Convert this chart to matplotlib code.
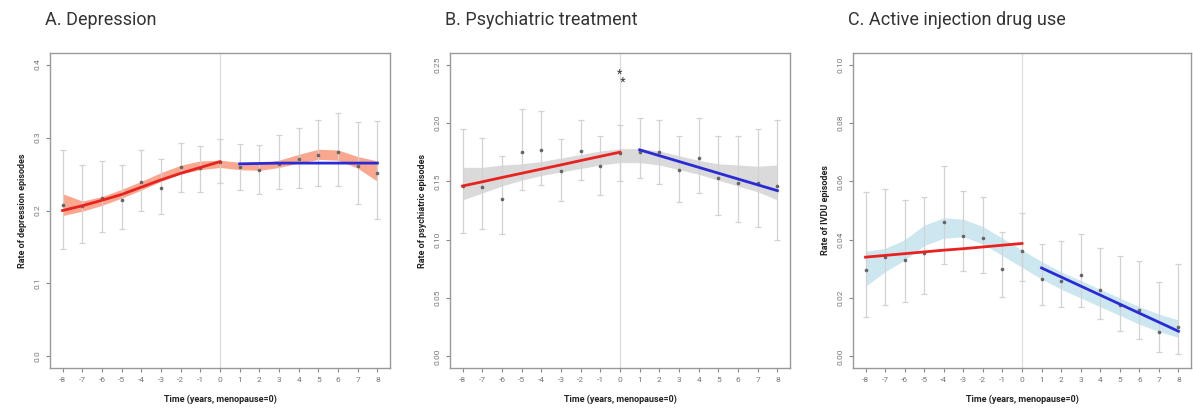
import matplotlib
matplotlib.use("Agg")
import matplotlib.pyplot as plt
import numpy as np

years = list(range(-8, 9))

# Panel A: Depression
a_rate = [0.207, 0.206, 0.217, 0.215, 0.239, 0.231, 0.260, 0.258, 0.267,
          0.260, 0.256, 0.264, 0.270, 0.276, 0.280, 0.261, 0.251]
a_hi = [0.283, 0.263, 0.268, 0.262, 0.283, 0.270, 0.293, 0.288, 0.298,
        0.291, 0.290, 0.304, 0.313, 0.324, 0.334, 0.321, 0.323]
a_lo = [0.147, 0.156, 0.171, 0.175, 0.200, 0.195, 0.225, 0.225, 0.238,
        0.228, 0.222, 0.230, 0.231, 0.234, 0.234, 0.209, 0.189]
a_smooth = [0.208, 0.206, 0.213, 0.223, 0.234, 0.246, 0.256, 0.262, 0.264,
            0.261, 0.260, 0.264, 0.271, 0.277, 0.276, 0.266, 0.254]
a_band = [0.015, 0.007, 0.006, 0.006, 0.006, 0.006, 0.006, 0.006, 0.005,
          0.005, 0.005, 0.005, 0.006, 0.007, 0.007, 0.008, 0.014]
a_pre = [0.200, 0.2065, 0.214, 0.222, 0.232, 0.242, 0.251, 0.259, 0.267]
a_post = [0.264, 0.2645, 0.265, 0.265, 0.265, 0.265, 0.265, 0.265]

# Panel B: Psychiatric treatment
b_rate = [0.146, 0.145, 0.135, 0.175, 0.177, 0.159, 0.176, 0.163, 0.174,
          0.175, 0.175, 0.160, 0.170, 0.153, 0.149, 0.149, 0.146]
b_hi = [0.195, 0.187, 0.172, 0.212, 0.210, 0.186, 0.203, 0.189, 0.198,
        0.204, 0.203, 0.189, 0.204, 0.189, 0.189, 0.195, 0.203]
b_lo = [0.106, 0.109, 0.105, 0.143, 0.147, 0.133, 0.151, 0.138, 0.150,
        0.153, 0.148, 0.132, 0.140, 0.121, 0.115, 0.111, 0.100]
b_smooth = [0.148, 0.151, 0.155, 0.158, 0.161, 0.164, 0.167, 0.170, 0.172,
            0.172, 0.170, 0.166, 0.162, 0.158, 0.155, 0.152, 0.149]
b_band = [0.014, 0.011, 0.009, 0.007, 0.006, 0.006, 0.006, 0.006, 0.006,
          0.006, 0.006, 0.006, 0.006, 0.007, 0.009, 0.011, 0.015]
b_pre = [0.146, 0.1496, 0.1533, 0.1569, 0.1605, 0.1641, 0.1678, 0.1714, 0.175]
b_post = [0.177, 0.172, 0.167, 0.162, 0.157, 0.152, 0.147, 0.142]

# Panel C: Active injection drug use
c_rate = [0.0297, 0.0340, 0.0332, 0.0355, 0.0461, 0.0412, 0.0407, 0.0301, 0.0361,
          0.0266, 0.0260, 0.0280, 0.0228, 0.0176, 0.0159, 0.0084, 0.0100]
c_hi = [0.0562, 0.0574, 0.0536, 0.0545, 0.0654, 0.0566, 0.0548, 0.0426, 0.0490,
        0.0386, 0.0395, 0.0421, 0.0372, 0.0343, 0.0326, 0.0255, 0.0315]
c_lo = [0.0134, 0.0176, 0.0188, 0.0213, 0.0317, 0.0291, 0.0286, 0.0202, 0.0259,
        0.0176, 0.0168, 0.0168, 0.0127, 0.0086, 0.0061, 0.0015, 0.0007]
c_smooth = [0.0300, 0.0330, 0.0365, 0.0415, 0.0440, 0.0440, 0.0415, 0.0375, 0.0335,
            0.0295, 0.0260, 0.0230, 0.0200, 0.0170, 0.0140, 0.0115, 0.0095]
c_band = [0.0060, 0.0040, 0.0035, 0.0035, 0.0035, 0.0030, 0.0030, 0.0030, 0.0030,
          0.0030, 0.0030, 0.0030, 0.0030, 0.0030, 0.0030, 0.0030, 0.0030]
c_pre = [0.0340, 0.0346, 0.0352, 0.0358, 0.0364, 0.0369, 0.0375, 0.0381, 0.0387]
c_post = [0.0303, 0.0272, 0.0241, 0.0210, 0.0179, 0.0148, 0.0117, 0.0086]

panels = [
    dict(title="A. Depression", ylabel="Rate of depression episodes",
         rate=a_rate, hi=a_hi, lo=a_lo, smooth=a_smooth, band=a_band,
         pre=a_pre, post=a_post, yticks=[0.0, 0.1, 0.2, 0.3, 0.4],
         fmt="{:.1f}", band_color="#f66f45", band_alpha=0.6,
         left=50, right=390),
    dict(title="B. Psychiatric treatment", ylabel="Rate of psychiatric episodes",
         rate=b_rate, hi=b_hi, lo=b_lo, smooth=b_smooth, band=b_band,
         pre=b_pre, post=b_post, yticks=[0.00, 0.05, 0.10, 0.15, 0.20, 0.25],
         fmt="{:.2f}", band_color="#bdbdbd", band_alpha=0.55,
         left=450, right=790),
    dict(title="C. Active injection drug use", ylabel="Rate of IVDU episodes",
         rate=c_rate, hi=c_hi, lo=c_lo, smooth=c_smooth, band=c_band,
         pre=c_pre, post=c_post, yticks=[0.00, 0.02, 0.04, 0.06, 0.08, 0.10],
         fmt="{:.2f}", band_color="#add8e6", band_alpha=0.6,
         left=853, right=1191),
]

W, H = 1193, 412
fig = plt.figure(figsize=(W / 100, H / 100), dpi=100)
plt.rcParams['font.family'] = ['Roboto', 'DejaVu Sans']

top_px, bot_px = 53, 368
for p in panels:
    ax = fig.add_axes([p["left"] / W, 1 - bot_px / H,
                       (p["right"] - p["left"]) / W, (bot_px - top_px) / H])
    x = np.array(years)
    ax.axvline(0, color="#dddddd", lw=0.9, zorder=0)
    sm = np.array(p["smooth"]); bd = np.array(p["band"])
    ax.fill_between(x, sm - bd, sm + bd, color=p["band_color"],
                    alpha=p["band_alpha"], lw=0, zorder=1)
    rate = np.array(p["rate"])
    ax.errorbar(x, rate, yerr=[rate - np.array(p["lo"]), np.array(p["hi"]) - rate],
                fmt="none", ecolor="#d2d2d2", elinewidth=0.9, capsize=2.5,
                capthick=0.9, zorder=2)
    ax.plot(x, rate, ls="none", marker="o", ms=1.6, color="#666666", zorder=4)
    ax.plot(years[:9], p["pre"], color="#e8231f", lw=2, zorder=5)
    ax.plot(years[9:], p["post"], color="#2a2ad6", lw=2, zorder=5)

    yt = p["yticks"]
    span = yt[-1] - yt[0]
    ax.set_ylim(yt[0] - 0.04 * span, yt[-1] + 0.04 * span)
    ax.set_xlim(-8.64, 8.64)
    ax.set_xticks(years)
    ax.set_xticklabels([str(v) for v in years])
    ax.set_yticks(yt)
    ax.set_yticklabels([p["fmt"].format(v) for v in yt], rotation=90, va="center")
    ax.tick_params(axis="both", colors="#888888", labelcolor="#777777",
                   labelsize=6, length=3, width=0.8)
    for s in ax.spines.values():
        s.set_color("#999999")
        s.set_linewidth(1.0)
    ax.set_xlabel("Time (years, menopause=0)", fontsize=6.5, fontweight="bold",
                  color="#222222", labelpad=8)
    ax.set_ylabel(p["ylabel"], fontsize=6.5, fontweight="bold", color="#222222",
                  labelpad=6)
    fig.text((p["left"] - 5) / W, 1 - 20 / H, p["title"], fontsize=13,
             color="#333333", va="center", ha="left")
    if p["title"].startswith("B"):
        ax.text(-0.02, 0.238, "*\n  *", fontsize=9, ha="center", va="center",
                color="#3a3a3a", linespacing=0.55)

fig.savefig("out.png", dpi=100)
